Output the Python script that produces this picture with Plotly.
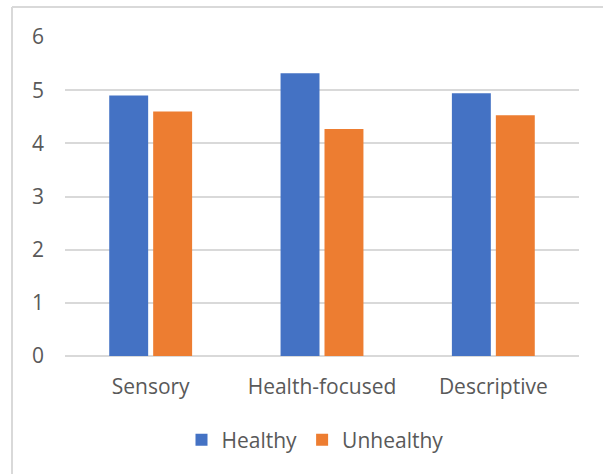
import plotly.graph_objects as go

categories = ["Sensory", "Health-focused", "Descriptive"]
healthy = [4.90, 5.32, 4.94]
unhealthy = [4.60, 4.27, 4.53]
y_ticks = [0, 1, 2, 3, 4, 5, 6]

W, H = 603, 474
M_L, M_R, M_T, M_B = 65, 24, 37, 118
FONT = "Open Sans"
TEXT = "#595959"
GRID = "#d9d9d9"

fig = go.Figure()
fig.add_trace(go.Bar(name="Healthy", x=categories, y=healthy,
                     marker=dict(color="#4472c4", line=dict(width=0))))
fig.add_trace(go.Bar(name="Unhealthy", x=categories, y=unhealthy,
                     marker=dict(color="#ed7d31", line=dict(width=0))))

# pixel -> paper conversion for the outer chart border
pw, ph = W - M_L - M_R, H - M_T - M_B
def px_x(x):
    return (x - M_L) / pw
def px_y(y):
    return (H - M_B - y) / ph

border_x, border_y = 12, 7
fig.add_shape(type="line", xref="paper", yref="paper",
              x0=px_x(border_x), x1=px_x(border_x), y0=px_y(border_y), y1=px_y(H + 5),
              line=dict(color=GRID, width=2))
fig.add_shape(type="line", xref="paper", yref="paper",
              x0=px_x(border_x), x1=px_x(W + 5), y0=px_y(border_y), y1=px_y(border_y),
              line=dict(color=GRID, width=2))

fig.update_layout(
    width=W, height=H,
    margin=dict(l=M_L, r=M_R, t=M_T, b=M_B),
    paper_bgcolor="white", plot_bgcolor="white",
    barmode="group", bargap=0.487, bargroupgap=0.114,
    font=dict(family=FONT, size=21, color=TEXT),
    showlegend=True,
    legend=dict(orientation="h", x=px_x(315), xanchor="center",
                y=px_y(440), yanchor="middle",
                font=dict(family=FONT, size=21, color=TEXT),
                itemwidth=30, tracegroupgap=0),
)
fig.update_xaxes(showgrid=False, showline=False, ticks="", ticklabelstandoff=16,
                 tickfont=dict(family=FONT, size=21, color=TEXT))
fig.update_yaxes(range=[0, 6], tickvals=y_ticks, showgrid=True, gridcolor=GRID,
                 gridwidth=2, zeroline=True, zerolinecolor=GRID, zerolinewidth=2,
                 showline=False, ticks="", ticklabelstandoff=20,
                 tickfont=dict(family=FONT, size=21, color=TEXT))

fig.write_html("out.html")
